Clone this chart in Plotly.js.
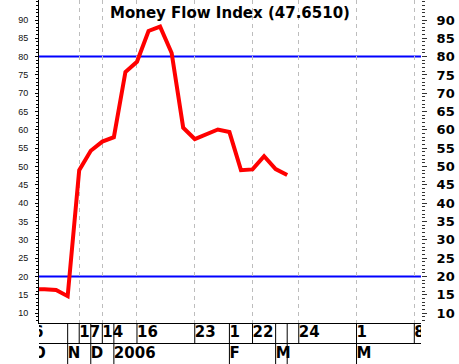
<!DOCTYPE html>
<html>
<head>
<meta charset="utf-8">
<script src="https://cdn.plot.ly/plotly-3.0.1.min.js"></script>
<style>html,body{margin:0;padding:0;background:#fff;}#chart{width:459px;height:364px;}</style>
</head>
<body>
<div id="chart"></div>
<script>
// Point index along the time axis and Money Flow Index values
const xIndex = [-1,0,1,2,3,4,5,6,7,8,9,10,11,12,13,14,15,16,17,18,19,20,21];
const mfi = [16.4,16.5,16.3,14.6,49.0,54.3,56.8,58.0,75.8,78.6,87.0,88.2,81.0,60.6,57.5,58.8,60.1,59.4,49.0,49.2,52.8,49.3,47.651];

// Reference levels
const overbought = 80;
const oversold = 20;

// Axis ticks
const yTickVals = [10,15,20,25,30,35,40,45,50,55,60,65,70,75,80,85,90];
const gridPos = [3,5,8,13,18,22,27,32];

// Bottom date rows
const row1Pos = [-1,3,5,8,13,16,18,22,27,32];
const row1Labels = ['6','17','14','16','23','1','22','24','1','8'];
const row2Pos = [-1,2,4,6,16,20,27];
const row2Labels = ['O','N','D','2006','F','M','M'];
const sepBoth = [2,4,6,16,20,21,27];
const sepTop = [3,5,8,13,18,22,32];

const xRange = [-0.48, 32.58];
const yRange = [7.27, 95.46];
const bottomFrac = 41/364;

const traces = [
  {x: xIndex, y: mfi, type:'scatter', mode:'lines', line:{color:'#ff0000', width:4}, hoverinfo:'skip', showlegend:false, xaxis:'x', yaxis:'y'},
  {x: xIndex, y: mfi, type:'scatter', mode:'lines', line:{color:'rgba(0,0,0,0)', width:0}, hoverinfo:'skip', showlegend:false, xaxis:'x', yaxis:'y2'},
  {x: row1Pos, y: row1Pos.map(()=>1.5), text: row1Labels, type:'scatter', mode:'text', textposition:'middle right',
   textfont:{family:'DejaVu Sans', size:15, color:'#000', weight:'bold'}, hoverinfo:'skip', showlegend:false, xaxis:'x2', yaxis:'y3', cliponaxis:true},
  {x: row2Pos, y: row2Pos.map(()=>0.5), text: row2Labels, type:'scatter', mode:'text', textposition:'middle right',
   textfont:{family:'DejaVu Sans', size:15, color:'#000', weight:'bold'}, hoverinfo:'skip', showlegend:false, xaxis:'x2', yaxis:'y3', cliponaxis:true}
];

const shapes = [];
[overbought, oversold].forEach(v => shapes.push({type:'line', xref:'paper', x0:0, x1:1, yref:'y', y0:v, y1:v, line:{color:'#0000ff', width:2}, layer:'between'}));
shapes.push({type:'line', xref:'paper', x0:0, x1:1, yref:'y3', y0:1, y1:1, line:{color:'#000', width:1}});
sepBoth.forEach(p => shapes.push({type:'line', xref:'x2', x0:p, x1:p, yref:'y3', y0:0, y1:2, line:{color:'#000', width:1}}));
sepTop.forEach(p => shapes.push({type:'line', xref:'x2', x0:p, x1:p, yref:'y3', y0:1, y1:2, line:{color:'#000', width:1}}));

const layout = {
  width:459, height:364,
  margin:{l:39, r:38, t:0, b:0, pad:0},
  paper_bgcolor:'#fff', plot_bgcolor:'#fff',
  showlegend:false,
  title:{text:'<b>Money Flow Index (47.6510)</b>', font:{family:'DejaVu Sans', size:15, color:'#000'}, x:0.5, xref:'paper', xanchor:'center', y:1-12.5/364, yanchor:'middle'},
  xaxis:{domain:[0,1], range:xRange, anchor:'y', tickmode:'array', tickvals:gridPos, showticklabels:false, ticks:'',
    showgrid:true, gridcolor:'#bdbdbd', gridwidth:1, griddash:'4px,4px', zeroline:false, showline:true, linecolor:'#000', linewidth:1, fixedrange:true},
  yaxis:{domain:[bottomFrac,1], range:yRange, anchor:'x', tickmode:'array', tickvals:yTickVals, ticks:'outside', ticklen:3, tickcolor:'#000', tickwidth:1,
    minor:{tickmode:'linear', tick0:0, dtick:1, ticks:'outside', ticklen:2, tickcolor:'#000'},
    showline:true, linecolor:'#000', linewidth:1, showgrid:false, zeroline:false, ticklabelstandoff:5,
    tickfont:{family:'Liberation Sans', size:9, color:'#111'}, fixedrange:true},
  yaxis2:{overlaying:'y', side:'right', anchor:'x', range:yRange, tickmode:'array', tickvals:yTickVals, ticks:'outside', ticklen:5, tickcolor:'#333', tickwidth:1,
    minor:{tickmode:'linear', tick0:0, dtick:1, ticks:'outside', ticklen:3, tickcolor:'#333'},
    showline:false, showgrid:false, zeroline:false, ticklabelstandoff:7,
    tickfont:{family:'DejaVu Sans', size:13, color:'#000', weight:'bold'}, fixedrange:true},
  xaxis2:{domain:[0,1], matches:'x', anchor:'y3', visible:false, fixedrange:true},
  yaxis3:{domain:[0,bottomFrac], range:[0,2], anchor:'x2', visible:false, fixedrange:true},
  shapes: shapes
};

Plotly.newPlot('chart', traces, layout, {staticPlot:true, displayModeBar:false});
</script>
</body>
</html>
